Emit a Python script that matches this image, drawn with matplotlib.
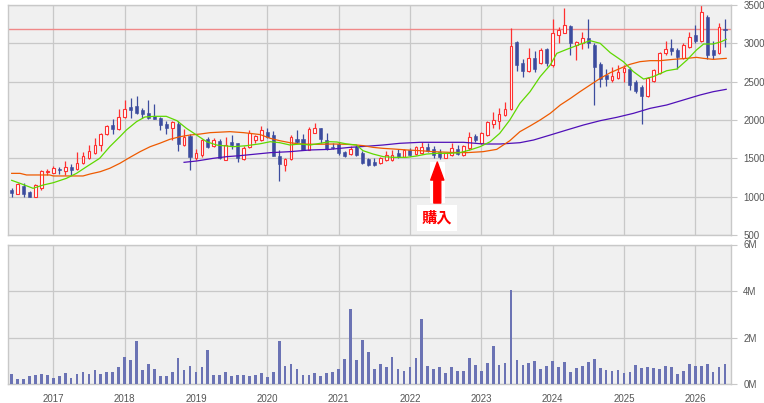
import numpy as np
import matplotlib
matplotlib.use("Agg")
import matplotlib.pyplot as plt

plt.rcParams['font.family'] = ['Liberation Sans', 'DejaVu Sans']

# Monthly candles, Jun 2016 .. Jun 2026 (index 0 = Jun 2016)
first_year, first_month = 2016, 6
opens = [1088, 1039, 1145, 1057, 1000, 1110, 1325, 1311, 1355, 1329,
         1382, 1355, 1434, 1504, 1570, 1680, 1811, 1934, 1877, 2039,
         2175, 2184, 2127, 2096, 2053, 2031, 1952, 1899, 1952, 1680,
         1789, 1504, 1539, 1746, 1658, 1724, 1482, 1715, 1702, 1491,
         1649, 1735, 1745, 1839, 1800, 1535, 1410, 1487, 1750, 1750,
         1612, 1835, 1891, 1739, 1650, 1687, 1587, 1557, 1652, 1574,
         1487, 1456, 1435, 1478, 1478, 1574, 1522, 1609, 1556, 1565,
         1643, 1622, 1578, 1509, 1543, 1617, 1543, 1630, 1791, 1696,
         1801, 1945, 1988, 2063, 2141, 3022, 2747, 2642, 2804, 2738,
         2926, 2717, 3109, 3140, 3227, 2978, 3009, 3065, 2978, 2726,
         2586, 2520, 2551, 2630, 2660, 2499, 2425, 2311, 2512, 2616,
         2869, 2935, 2913, 2804, 2956, 3109, 3035, 3349, 2913, 2878,
         3185]
highs = [1110, 1175, 1175, 1079, 1167, 1346, 1364, 1399, 1386, 1461,
         1430, 1583, 1583, 1671, 1759, 1833, 1934, 2018, 2140, 2263,
         2281, 2307, 2154, 2263, 2206, 2044, 1987, 1987, 1987, 1877,
         1811, 1618, 1754, 1776, 1767, 1746, 1781, 1798, 1702, 1658,
         1868, 1800, 1922, 1891, 1861, 1609, 1500, 1804, 1870, 1817,
         1913, 1957, 1900, 1830, 1700, 1710, 1600, 1660, 1680, 1600,
         1500, 1500, 1520, 1600, 1609, 1617, 1622, 1630, 1665, 1717,
         1700, 1660, 1617, 1574, 1696, 1670, 1674, 1840, 1817, 1848,
         1991, 2106, 2163, 2237, 3196, 3035, 2791, 2935, 2900, 2935,
         2935, 3314, 3218, 3458, 3240, 3035, 3153, 3314, 3000, 2760,
         2670, 2695, 2717, 2717, 2695, 2520, 2455, 2564, 2665, 2890,
         3035, 3052, 2935, 3000, 3153, 3240, 3500, 3371, 3035, 3261,
         3313]
lows = [996, 1031, 996, 996, 996, 1088, 1285, 1303, 1294, 1285,
        1285, 1346, 1425, 1487, 1561, 1601, 1802, 1820, 1864, 2031,
        2022, 2075, 2022, 2009, 2009, 1864, 1820, 1737, 1601, 1667,
        1351, 1482, 1522, 1636, 1645, 1491, 1474, 1623, 1452, 1478,
        1636, 1700, 1730, 1761, 1530, 1204, 1339, 1478, 1704, 1609,
        1609, 1826, 1700, 1610, 1625, 1540, 1520, 1540, 1530, 1420,
        1400, 1400, 1425, 1460, 1470, 1500, 1515, 1530, 1545, 1556,
        1580, 1500, 1490, 1500, 1535, 1540, 1530, 1608, 1717, 1683,
        1795, 1890, 1888, 2055, 2128, 2642, 2555, 2630, 2620, 2730,
        2700, 2690, 3000, 3131, 2847, 2782, 2922, 2935, 2193, 2425,
        2450, 2500, 2540, 2499, 2390, 2350, 1945, 2302, 2500, 2600,
        2847, 2847, 2660, 2790, 2945, 3000, 3020, 2791, 2791, 2860,
        2950]
closes = [1053, 1162, 1031, 996, 1153, 1329, 1333, 1373, 1342, 1382,
          1351, 1434, 1526, 1592, 1680, 1820, 1921, 1877, 2039, 2149,
          2132, 2096, 2083, 2022, 2018, 1934, 1890, 1969, 1693, 1781,
          1518, 1566, 1741, 1654, 1741, 1504, 1680, 1671, 1504, 1636,
          1826, 1785, 1865, 1778, 1535, 1430, 1490, 1778, 1710, 1612,
          1887, 1895, 1748, 1622, 1635, 1565, 1535, 1622, 1543, 1435,
          1413, 1413, 1509, 1543, 1543, 1522, 1609, 1543, 1643, 1652,
          1600, 1543, 1522, 1565, 1630, 1552, 1661, 1774, 1739, 1826,
          1975, 2006, 2076, 2141, 2965, 2717, 2642, 2804, 2660, 2913,
          2738, 3131, 3174, 3240, 3009, 3022, 3065, 3000, 2695, 2534,
          2530, 2573, 2630, 2673, 2455, 2381, 2311, 2551, 2651, 2878,
          2922, 2904, 2817, 2978, 3078, 3035, 3405, 2847, 2847, 3209,
          3170]
volume_m = [0.43, 0.21, 0.21, 0.34, 0.39, 0.43, 0.39,
            0.26, 0.34, 0.47, 0.26, 0.43, 0.52, 0.43, 0.60, 0.43, 0.52, 0.52, 0.73,
            1.16, 1.03, 1.85, 0.60, 0.86, 0.64, 0.34, 0.34, 0.52, 1.12, 0.60, 0.77,
            0.52, 0.73, 1.46, 0.39, 0.39, 0.52, 0.34, 0.39, 0.39, 0.34, 0.39, 0.47,
            0.30, 0.52, 1.85, 0.77, 0.86, 0.64, 0.39, 0.39, 0.47, 0.34, 0.47, 0.52,
            0.64, 1.07, 3.22, 1.03, 1.89, 1.38, 0.64, 0.86, 0.73, 1.16, 0.64, 0.56,
            0.73, 1.12, 2.79, 0.77, 0.64, 0.73, 0.47, 0.73, 0.56, 0.56, 1.12, 0.82,
            0.56, 0.90, 1.63, 0.82, 0.90, 4.04, 1.03, 0.82, 0.90, 0.99, 0.64, 0.77,
            0.99, 0.73, 0.95, 0.52, 0.69, 0.77, 0.95, 1.07, 0.69, 0.60, 0.56, 0.60,
            0.47, 0.52, 0.82, 0.69, 0.73, 0.69, 0.64, 0.77, 0.73, 0.43, 0.56, 0.86,
            0.77, 0.77, 0.86, 0.52, 0.73, 0.86]

# moving averages: (month index, price)
ma_short_pos = [0, 1.4, 3.6, 5.3, 7, 9.2, 10.9, 12.6, 14.8, 16.5, 18.2, 19.3,
                21, 22.4, 24, 26, 27.8, 29.4, 31.1, 32.8, 34.5, 37.3, 39.5,
                41.8, 43.5, 45.1, 46.8, 48.5, 50.2, 51.9, 53.5, 54.7, 56.4,
                58, 59.1, 60.8, 62.5, 64.2, 66.4, 68.1, 69.8, 71.5, 73.7,
                75.4, 77.1, 78.8, 80.5, 82.1, 83.8, 85.5, 87.2, 88.9, 90.6,
                91.7, 93.4, 95.6, 97.3, 99, 100.7, 102.9, 104.6, 106.3, 107.9,
                110.2, 111.9, 113.6, 115.2, 116.4, 118, 119.4, 120.2]
ma_short_val = [1213, 1174, 1109, 1152, 1182, 1239, 1304, 1391, 1500, 1652, 1782, 1870,
                1978, 2039, 2048, 2048, 1991, 1891, 1804, 1717, 1673, 1652, 1665,
                1690, 1717, 1704, 1674, 1687, 1674, 1696, 1717, 1713, 1687,
                1674, 1600, 1556, 1522, 1513, 1513, 1530, 1556, 1565, 1565,
                1574, 1609, 1652, 1717, 1826, 2000, 2217, 2369, 2565, 2717,
                2869, 2922, 2987, 3035, 3000, 2878, 2761, 2630, 2534, 2565,
                2643, 2665, 2782, 2913, 2991, 2991, 3022, 3052]
ma_mid_pos = [0, 1.4, 2.5, 6.4, 7, 12, 13.2, 14.9, 16.5, 18.2, 19.9, 21.6, 23.3,
              24.9, 26.6, 28.3, 30, 31.7, 33.4, 36.7, 39, 41.8, 43.5, 45.1,
              46.8, 48.5, 51.3, 54.1, 56.4, 58, 59.2, 60.8, 62.5, 64.2, 66.5,
              68.7, 70.9, 73.7, 76.5, 79.3, 81.6, 83.8, 85.5, 87.2, 88.9, 90.6,
              92.3, 94, 95.6, 97.3, 99, 100.7, 102.4, 104, 105.7, 107.4, 109.1,
              111.3, 113.6, 115.2, 116.4, 118, 120.2]
ma_mid_val = [1304, 1304, 1283, 1283, 1270, 1270, 1296, 1326, 1370, 1435, 1513, 1587, 1652,
              1696, 1748, 1782, 1804, 1817, 1835, 1848, 1835, 1810, 1761, 1730,
              1704, 1687, 1683, 1687, 1683, 1674, 1665, 1643, 1630, 1622, 1609,
              1600, 1587, 1578, 1574, 1587, 1617, 1730, 1848, 1922, 2000, 2087,
              2196, 2282, 2369, 2456, 2543, 2617, 2674, 2726, 2761, 2774, 2774,
              2791, 2804, 2817, 2804, 2791, 2804]
ma_long_pos = [29, 31.1, 33.9, 36.2, 38.4, 41.8, 43.5, 46.8, 50.2, 53.5, 56.9,
               60.3, 62.5, 65.3, 68.7, 76, 79.4, 82.2, 85.5, 87.8, 90.6, 93.4,
               96.2, 99, 101.8, 104.6, 107.4, 110.2, 113, 115.8, 118, 120.2]
ma_long_val = [1448, 1465, 1500, 1522, 1535, 1561, 1574, 1587, 1609, 1617, 1643,
               1661, 1674, 1696, 1709, 1709, 1687, 1687, 1704, 1739, 1804, 1870,
               1935, 1991, 2035, 2087, 2152, 2196, 2261, 2326, 2369, 2400]

ref_price = 3182          # horizontal reference line
buy_month = 71.6          # 購入 marker
years = list(range(2017, 2027))

BG = '#f0f0f0'
GRID = '#c8c8c8'
UP = '#ff3030'
DOWN = '#3c4c9e'
VOL = '#6b73b4'
LABEL = '#555555'

n = len(closes)
x = np.arange(n)
o, h, l, c = map(np.array, (opens, highs, lows, closes))
up = c >= o
year_pos = [(y - first_year) * 12 + (1 - first_month) for y in years]

fig = plt.figure(figsize=(7.64, 4.03), dpi=100)
W, H = 764, 403
ax = fig.add_axes([8.3 / W, 1 - 235 / H, 722.4 / W, 230 / H])
axv = fig.add_axes([8.3 / W, 1 - 384 / H, 722.4 / W, 139.5 / H])

for a in (ax, axv):
    a.set_facecolor(BG)
    a.set_xlim(-0.57, 120.96)
    a.set_xticks(year_pos)
    a.grid(True, color=GRID, lw=0.9)
    a.set_axisbelow(True)
    for s in a.spines.values():
        s.set_color(GRID)
        s.set_linewidth(1.0)
    a.yaxis.tick_right()
    a.tick_params(axis='y', length=4, color=GRID, pad=5, labelsize=7,
                  labelcolor=LABEL)
    a.tick_params(axis='x', length=0)

# price panel
ax.set_ylim(500, 3500)
ax.set_yticks(range(500, 3501, 500))
ax.tick_params(axis='x', labelbottom=False)
ax.axhline(ref_price, color='#f08888', lw=1.0, zorder=1.5)

ax.vlines(x[up], l[up], h[up], color=UP, lw=0.9, zorder=2)
ax.vlines(x[~up], l[~up], h[~up], color=DOWN, lw=0.9, zorder=2)
ax.bar(x[up], np.maximum(c[up] - o[up], 8), bottom=o[up], width=0.46,
       facecolor='white', edgecolor=UP, lw=0.8, zorder=3)
ax.bar(x[~up], np.maximum(o[~up] - c[~up], 8), bottom=c[~up], width=0.52,
       facecolor=DOWN, edgecolor=DOWN, lw=0.4, zorder=3)

ax.plot(ma_long_pos, ma_long_val, color='#5010b8', lw=0.9, zorder=4)
ax.plot(ma_mid_pos, ma_mid_val, color='#ee5a00', lw=0.9, zorder=4)
ax.plot(ma_short_pos, ma_short_val, color='#5fd800', lw=0.9, zorder=4)

# buy marker
ax.add_patch(plt.Rectangle((buy_month - 1.15, 917), 2.5, 535,
                           facecolor='white', edgecolor='none', zorder=5))
ax.annotate('', xy=(buy_month, 1452), xytext=(buy_month, 917),
            arrowprops=dict(arrowstyle='simple,head_width=0.95,head_length=1.3,tail_width=0.5',
                            color='#ff0000', shrinkA=0, shrinkB=0,
                            mutation_scale=10),
            zorder=6)
ax.text(buy_month, 722, '購入', ha='center', va='center', color='#ff0000',
        fontsize=11, fontweight='bold', family=['Noto Sans CJK JP', 'DejaVu Sans'],
        bbox=dict(boxstyle='square,pad=0.3', facecolor='white', edgecolor='none'),
        zorder=6)

# volume panel
axv.bar(x, volume_m, width=0.46, color=VOL, zorder=3)
axv.set_ylim(0, 6)
axv.set_yticks([0, 2, 4, 6])
axv.set_yticklabels(['0M', '2M', '4M', '6M'])
axv.set_xticklabels([str(y) for y in years])
axv.tick_params(axis='x', pad=7, labelsize=7, labelcolor=LABEL)

fig.savefig('out.png', dpi=100)
